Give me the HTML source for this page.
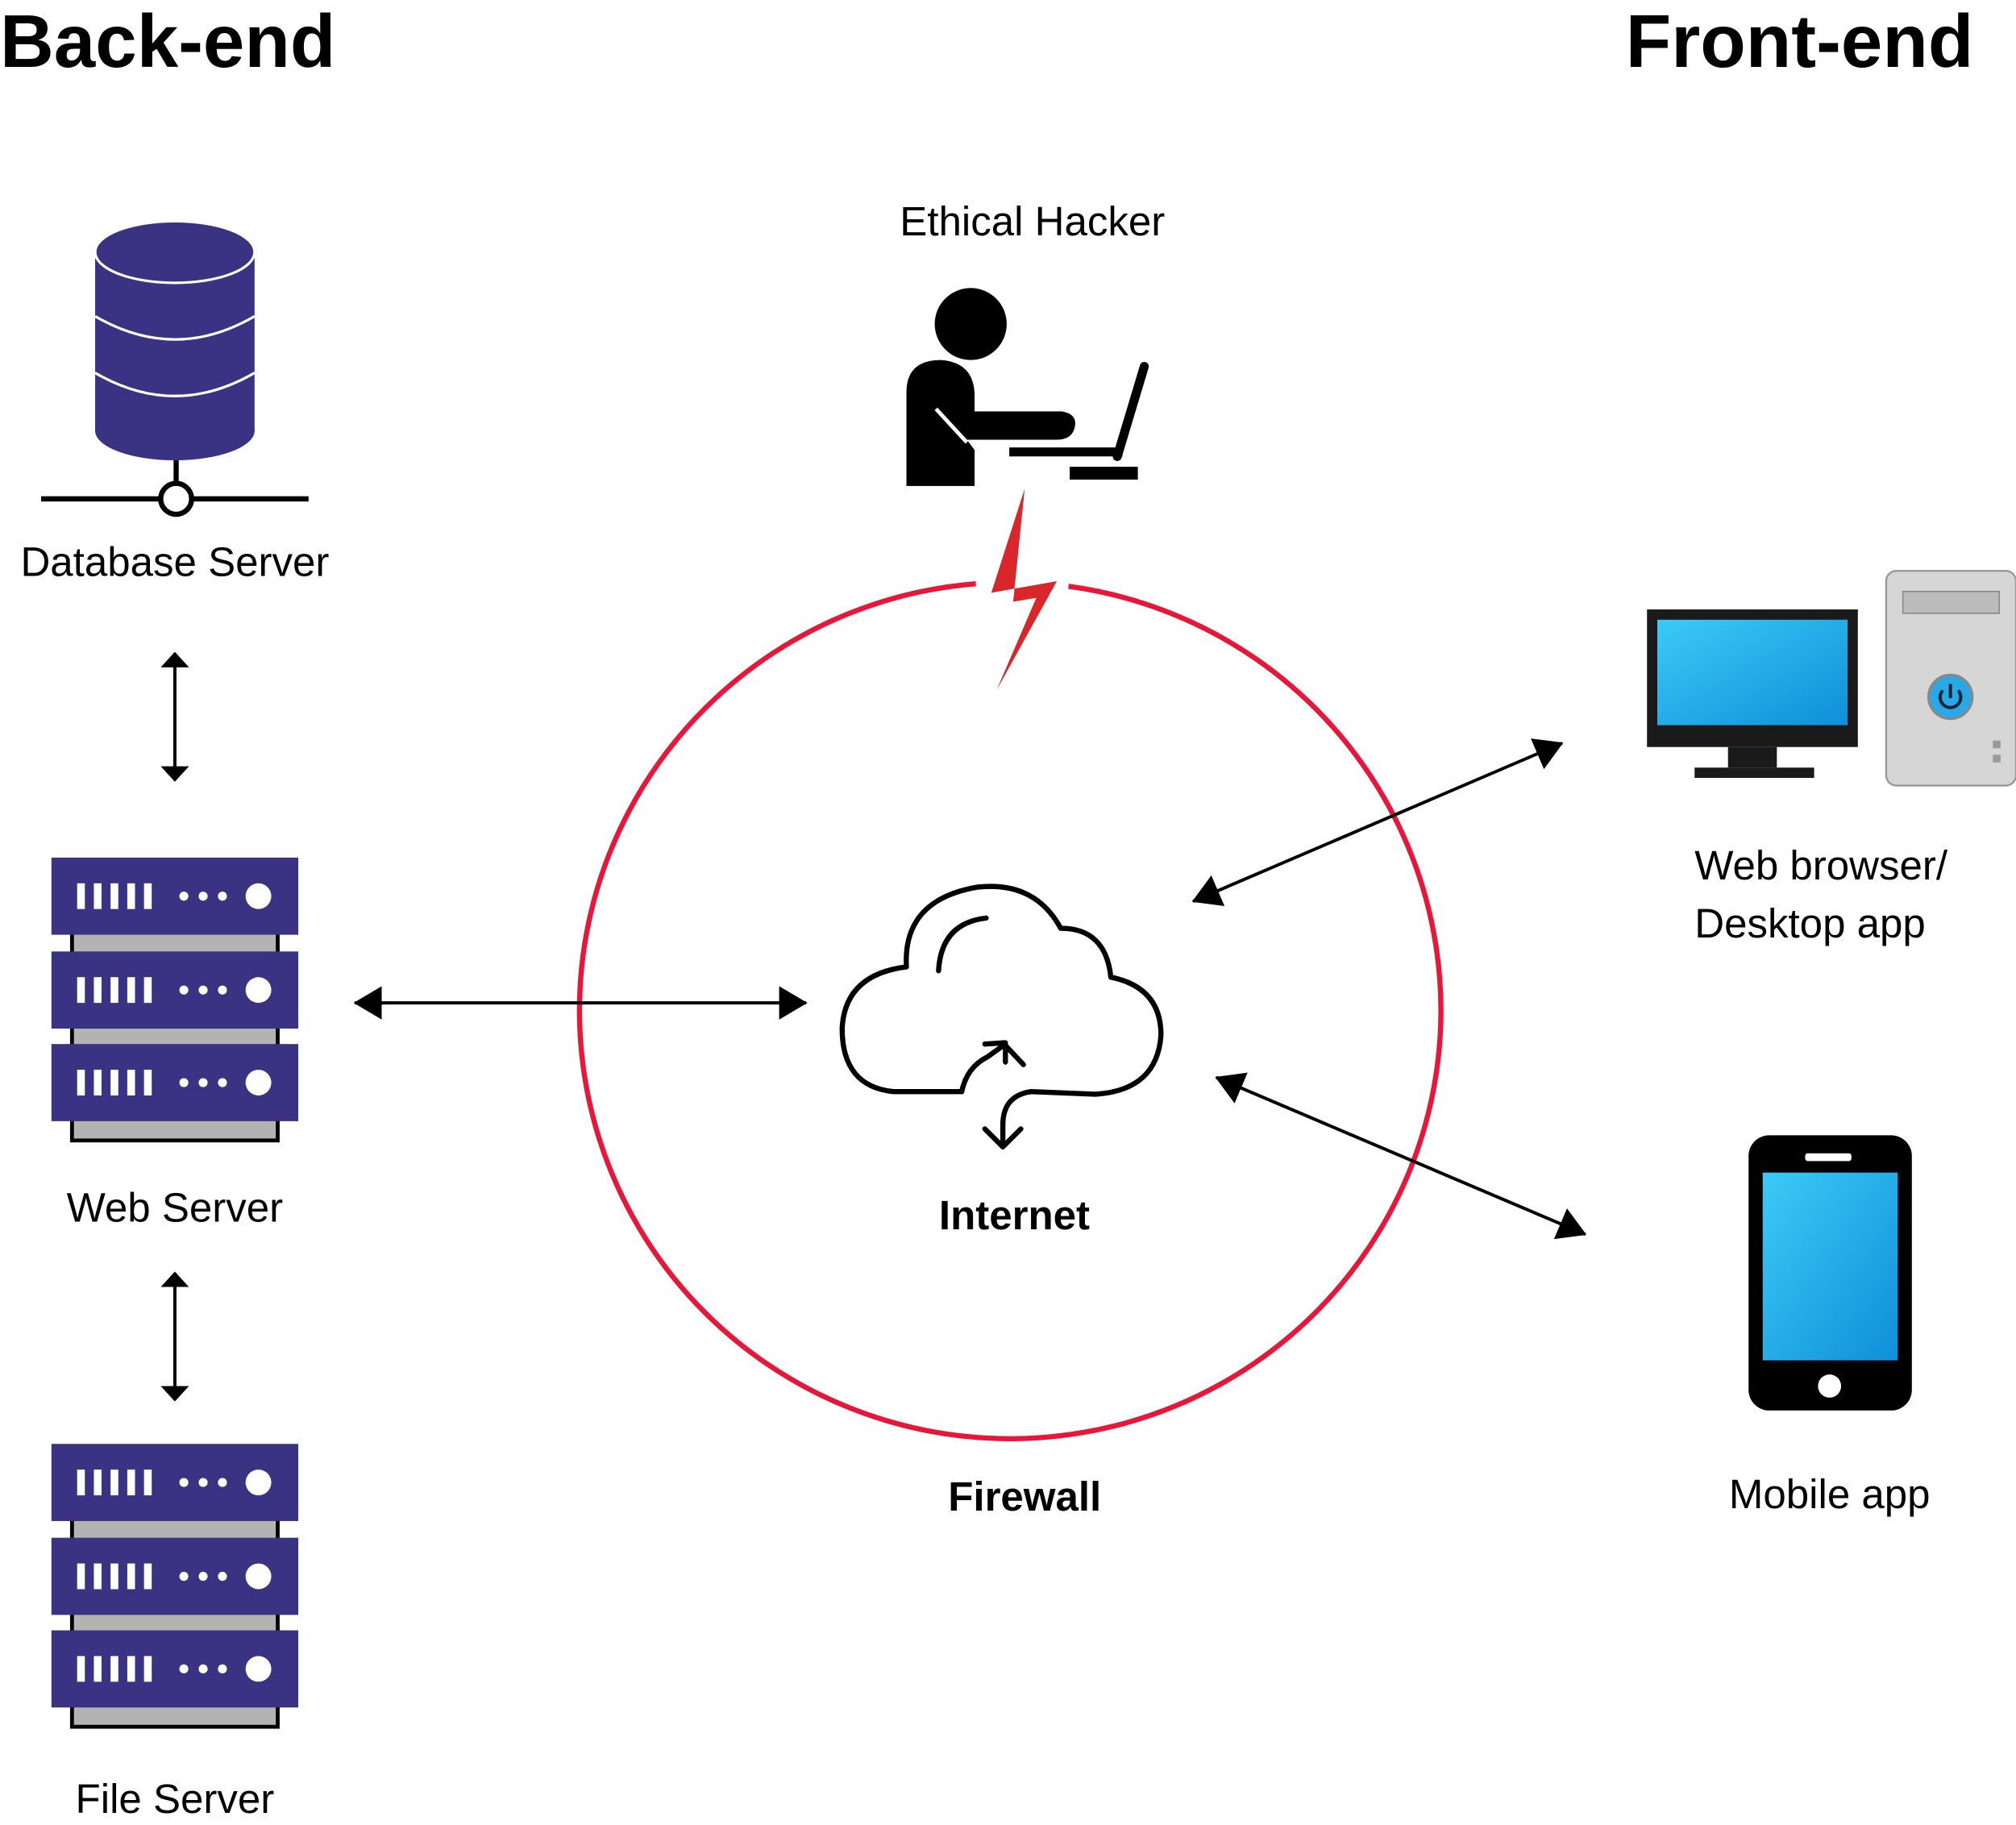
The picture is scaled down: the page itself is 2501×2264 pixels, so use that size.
<!DOCTYPE html>
<html><head><meta charset="utf-8"><style>
html,body{margin:0;padding:0;background:#fff;}
svg{display:block;}
text{font-family:"Liberation Sans",sans-serif;}
</style></head><body>
<svg width="2501" height="2264" viewBox="0 0 1568 1419.4" preserveAspectRatio="none" xmlns="http://www.w3.org/2000/svg">
<defs>
<marker id="ah" markerWidth="12" markerHeight="22" refX="11" refY="11" orient="auto-start-reverse" markerUnits="userSpaceOnUse" viewBox="0 0 12 22">
<path d="M0,0 L12,11 L0,22 z" fill="#000"/></marker>
<marker id="ahb" markerWidth="22" markerHeight="26" refX="21" refY="13" orient="auto-start-reverse" markerUnits="userSpaceOnUse" viewBox="0 0 22 26">
<path d="M0,0 L22,13 L0,26 z" fill="#000"/></marker>
<linearGradient id="scr" x1="0" y1="0" x2="1" y2="1"><stop offset="0" stop-color="#3ccaf7"/><stop offset="1" stop-color="#0f8fd8"/></linearGradient>
<g id="unit">
<rect x="0" y="0" width="192" height="60" fill="#3a3282"/>
<g fill="#fff"><rect x="20" y="20" width="6" height="20"/><rect x="33" y="20" width="6" height="20"/><rect x="46" y="20" width="6" height="20"/><rect x="59" y="20" width="6" height="20"/><rect x="72" y="20" width="6" height="20"/>
<circle cx="103" cy="30" r="3.5"/><circle cx="118" cy="30" r="3.5"/><circle cx="133" cy="30" r="3.5"/><circle cx="161" cy="30" r="10"/></g>
</g>
<g id="server">
<rect x="16" y="40" width="160" height="180" fill="#b3b3b3" stroke="#000" stroke-width="3"/>
<use href="#unit" x="0" y="0"/><use href="#unit" x="0" y="73"/><use href="#unit" x="0" y="145"/>
</g>
</defs>

<text x="0" y="52" font-size="58" font-weight="bold">Back-end</text>
<text x="1535" y="52" font-size="58" font-weight="bold" text-anchor="end">Front-end</text>

<g>
<rect x="74" y="196" width="124" height="140" fill="#3a3282"/>
<ellipse cx="136" cy="335" rx="62" ry="23" fill="#3a3282"/>
<ellipse cx="136" cy="196" rx="62" ry="24" fill="#3a3282" stroke="#fff" stroke-width="2"/>
<path d="M74,246 Q136,282 198,246" fill="none" stroke="#fff" stroke-width="2"/>
<path d="M74,290 Q136,326 198,290" fill="none" stroke="#fff" stroke-width="2"/>
<line x1="137" y1="358" x2="137" y2="376" stroke="#000" stroke-width="4"/>
<line x1="32" y1="388" x2="240" y2="388" stroke="#000" stroke-width="4"/>
<circle cx="137" cy="388" r="12" fill="#fff" stroke="#000" stroke-width="4"/>
</g>
<text x="136" y="448" font-size="32" text-anchor="middle">Database Server</text>
<line x1="136" y1="508" x2="136" y2="607" stroke="#000" stroke-width="2.5" marker-start="url(#ah)" marker-end="url(#ah)"/>

<use href="#server" x="40" y="667"/>
<text x="136" y="950" font-size="32" text-anchor="middle">Web Server</text>
<line x1="136" y1="990" x2="136" y2="1089" stroke="#000" stroke-width="2.5" marker-start="url(#ah)" marker-end="url(#ah)"/>
<use href="#server" x="40" y="1123"/>
<text x="136" y="1410" font-size="32" text-anchor="middle">File Server</text>

<path d="M831,456 A335,333 0 1 1 759,454" fill="none" stroke="#e8173a" stroke-width="4"/>
<polygon points="797,380 771,461 822,452 775,537 806,465 788,468" fill="#d9262b"/>

<text x="803" y="183" font-size="32" text-anchor="middle">Ethical Hacker</text>
<circle cx="755" cy="252" r="28" fill="#000"/>
<path d="M705,378 L705,305 Q705,280 732,280 Q758,282 758,308 L758,320 L826,320 Q838,322 836,332 Q834,342 822,342 L752,342 L758,350 L758,378 Z" fill="#000"/>
<path d="M728,318 L752,344" stroke="#fff" stroke-width="3"/>
<path d="M869,355 L890,285" stroke="#000" stroke-width="7" stroke-linecap="round"/>
<rect x="785" y="348" width="88" height="7" fill="#000"/>
<rect x="832" y="363" width="53" height="10" fill="#000"/>

<g fill="none" stroke="#000" stroke-width="4" stroke-linecap="round" stroke-linejoin="round">
<path d="M748,849 L695,849 Q655,845 655,800 Q657,758 705,752 Q702,700 760,690 Q805,685 825,722 Q860,722 864,760 Q903,768 903,805 Q900,848 852,851 L802,849 Q780,852 780,875"/>
<path d="M730,755 Q732,718 767,714"/>
<path d="M748,849 Q752,830 768,822 L782,812 M766,812 L782,811 L782,826"/>
<path d="M780,811 L796,828"/>
<path d="M780,875 L780,890 M766,878 L780,892 L794,878"/>
</g>
<text x="789" y="956" font-size="32" font-weight="bold" text-anchor="middle">Internet</text>
<text x="797" y="1175" font-size="32" font-weight="bold" text-anchor="middle">Firewall</text>

<line x1="276" y1="780" x2="627" y2="780" stroke="#000" stroke-width="2.5" marker-start="url(#ahb)" marker-end="url(#ahb)"/>
<line x1="928" y1="701" x2="1215" y2="578" stroke="#000" stroke-width="2.5" marker-start="url(#ahb)" marker-end="url(#ahb)"/>
<line x1="946" y1="838" x2="1233" y2="960" stroke="#000" stroke-width="2.5" marker-start="url(#ahb)" marker-end="url(#ahb)"/>

<rect x="1281" y="474" width="164" height="107" fill="#1a1a1a"/>
<rect x="1289" y="482" width="148" height="82" fill="url(#scr)"/>
<rect x="1344" y="581" width="38" height="16" fill="#1a1a1a"/>
<rect x="1318" y="597" width="93" height="8" fill="#1a1a1a"/>
<rect x="1467" y="444" width="101" height="167" rx="8" fill="#d6d6d6" stroke="#999" stroke-width="1.5"/>
<rect x="1480" y="460" width="75" height="17" fill="#bbb" stroke="#888"/>
<circle cx="1517" cy="542" r="17" fill="#29a8e8" stroke="#888" stroke-width="2"/>
<path d="M1511,537 A8,8 0 1 0 1523,537 M1517,532 L1517,543" fill="none" stroke="#123" stroke-width="2.5"/>
<rect x="1550" y="576" width="6" height="6" fill="#999"/><rect x="1550" y="587" width="6" height="6" fill="#999"/>
<text x="1318" y="684" font-size="32">Web browser/</text>
<text x="1318" y="729" font-size="32">Desktop app</text>

<rect x="1360" y="883" width="127" height="214" rx="16" fill="#000"/>
<rect x="1371" y="912" width="105" height="146" fill="url(#scr)"/>
<rect x="1404" y="897" width="36" height="6" rx="2" fill="#fff"/>
<circle cx="1423" cy="1078" r="9" fill="#fff"/>
<text x="1423" y="1173" font-size="32" text-anchor="middle">Mobile app</text>
</svg>
</body></html>
